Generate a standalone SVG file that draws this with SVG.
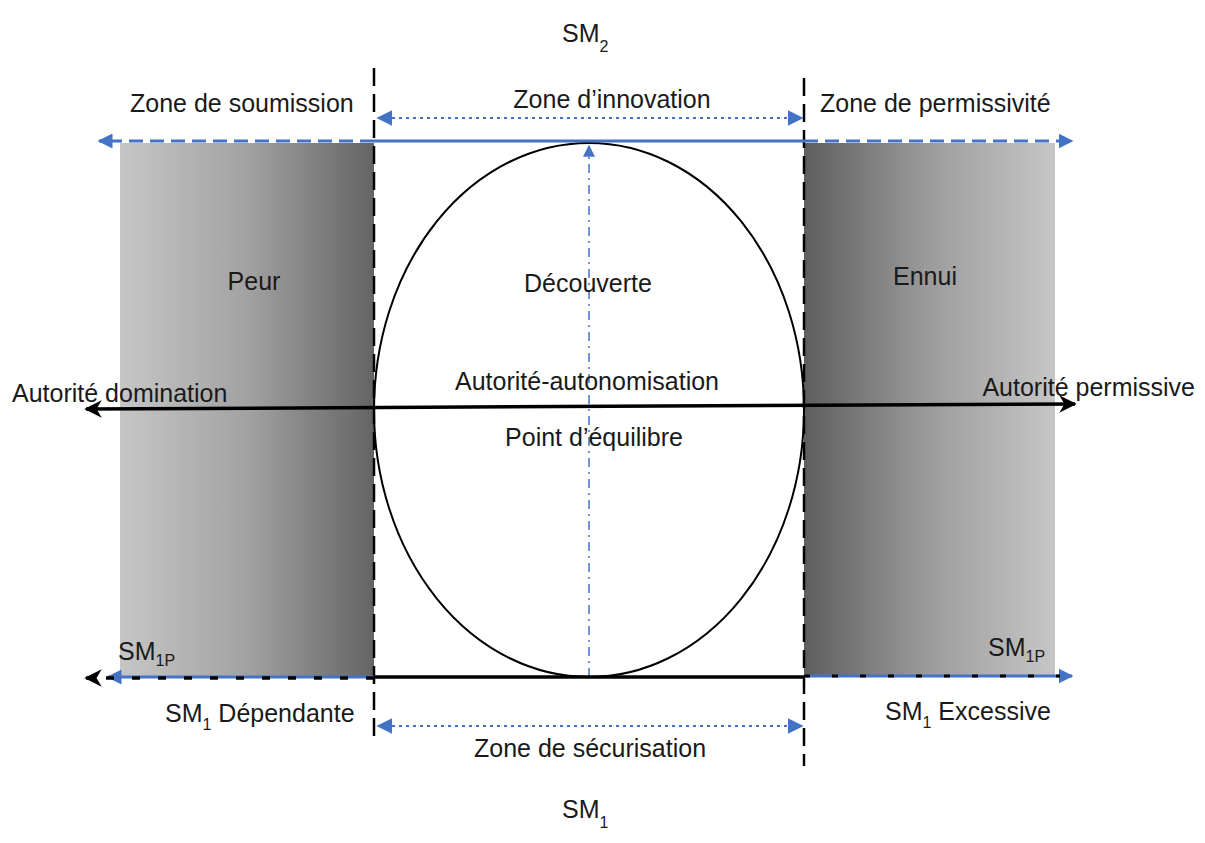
<svg xmlns="http://www.w3.org/2000/svg" width="1205" height="843" viewBox="0 0 1205 843">
<style>
text{font-family:"Liberation Sans",Arial,sans-serif;font-size:25px;fill:#1a1a1a}
.sub{font-size:16px}
.blue{stroke:#4472C4;fill:none}
.blk{stroke:#000;fill:none}
</style>
<defs>
<linearGradient id="gL" x1="0" x2="1" y1="0" y2="0"><stop offset="0" stop-color="#c6c6c6"/><stop offset="0.5" stop-color="#a2a2a2"/><stop offset="1" stop-color="#646464"/></linearGradient>
<linearGradient id="gR" x1="0" x2="1" y1="0" y2="0"><stop offset="0" stop-color="#5e5e5e"/><stop offset="0.5" stop-color="#9c9c9c"/><stop offset="1" stop-color="#c6c6c6"/></linearGradient>
<marker id="ab" viewBox="0 0 10 10" refX="9" refY="5" markerWidth="5" markerHeight="5" orient="auto-start-reverse" markerUnits="strokeWidth"><path d="M0,0L10,5L0,10z" fill="#4472C4"/></marker>
<marker id="abs" viewBox="0 0 10 10" refX="9" refY="5" markerWidth="8" markerHeight="8" orient="auto-start-reverse" markerUnits="strokeWidth"><path d="M0,0L10,5L0,10z" fill="#4472C4"/></marker>
<marker id="ak" viewBox="0 0 10 10" refX="9" refY="5" markerWidth="5" markerHeight="5" orient="auto-start-reverse" markerUnits="strokeWidth"><path d="M0,0L10,5L0,10L3,5z" fill="#000"/></marker>
</defs>
<g id="zone-soumission-fill"><rect x="120" y="143" width="254" height="534" fill="url(#gL)"/></g>
<g id="zone-permissivite-fill"><rect x="804" y="143" width="251" height="534" fill="url(#gR)"/></g>
<g id="ellipse"><ellipse cx="589" cy="410" rx="215" ry="267" fill="none" stroke="#000" stroke-width="2"/></g>
<g id="connectors">
<line class="blk" x1="374" y1="68" x2="374" y2="742" stroke-width="2.5" stroke-dasharray="18 8"/>
<line class="blk" x1="804" y1="78" x2="804" y2="766" stroke-width="2.5" stroke-dasharray="18 8"/>
<line class="blue" x1="374" y1="141" x2="804" y2="141" stroke-width="3"/>
<line class="blue" x1="374" y1="141" x2="99" y2="141" stroke-width="3" stroke-dasharray="14 7" marker-end="url(#ab)"/>
<line class="blue" x1="804" y1="141" x2="1072" y2="141" stroke-width="3" stroke-dasharray="14 7" marker-end="url(#ab)"/>
<line class="blue" x1="378" y1="118" x2="802" y2="118" stroke-width="2" stroke-dasharray="3 4" marker-start="url(#abs)" marker-end="url(#abs)"/>
<line class="blue" x1="378" y1="726" x2="802" y2="726" stroke-width="2" stroke-dasharray="3 4" marker-start="url(#abs)" marker-end="url(#abs)"/>
<line class="blue" x1="589" y1="677" x2="589" y2="146" stroke-width="1.5" stroke-dasharray="9 5 2 5" marker-end="url(#abs)"/>
<line class="blk" x1="86" y1="409" x2="1075" y2="404" stroke-width="3.5" marker-start="url(#ak)" marker-end="url(#ak)"/>
<line class="blk" x1="374" y1="677" x2="804" y2="677" stroke-width="3.5"/>
<line class="blue" x1="374" y1="677" x2="108" y2="677" stroke-width="3" marker-end="url(#ab)"/>
<line class="blue" x1="804" y1="676" x2="1072" y2="676" stroke-width="3" marker-end="url(#ab)"/>
<line class="blk" x1="374" y1="678" x2="86" y2="678" stroke-width="3.5" stroke-dasharray="8 18" marker-end="url(#ak)"/>
<line class="blk" x1="804" y1="676" x2="1060" y2="676" stroke-width="3" stroke-dasharray="6 22"/>
</g>
<g id="labels">
<text x="562" y="42">SM<tspan class="sub" dy="10">2</tspan></text>
<text x="130" y="112">Zone de soumission</text>
<text x="612" y="108" text-anchor="middle">Zone d’innovation</text>
<text x="820" y="112">Zone de permissivité</text>
<text x="254" y="290" text-anchor="middle">Peur</text>
<text x="588" y="292" text-anchor="middle">Découverte</text>
<text x="925" y="285" text-anchor="middle">Ennui</text>
<text x="12" y="402">Autorité domination</text>
<text x="587" y="390" text-anchor="middle">Autorité-autonomisation</text>
<text x="1195" y="396" text-anchor="end">Autorité permissive</text>
<text x="594" y="446" text-anchor="middle">Point d’équilibre</text>
<text x="118" y="660">SM<tspan class="sub" dy="6">1P</tspan></text>
<text x="988" y="656">SM<tspan class="sub" dy="6">1P</tspan></text>
<text x="165" y="722">SM<tspan class="sub" dy="8">1</tspan><tspan dy="-8"> Dépendante</tspan></text>
<text x="590" y="757" text-anchor="middle">Zone de sécurisation</text>
<text x="885" y="720">SM<tspan class="sub" dy="8">1</tspan><tspan dy="-8"> Excessive</tspan></text>
<text x="562" y="818">SM<tspan class="sub" dy="10">1</tspan></text>
</g>
</svg>
